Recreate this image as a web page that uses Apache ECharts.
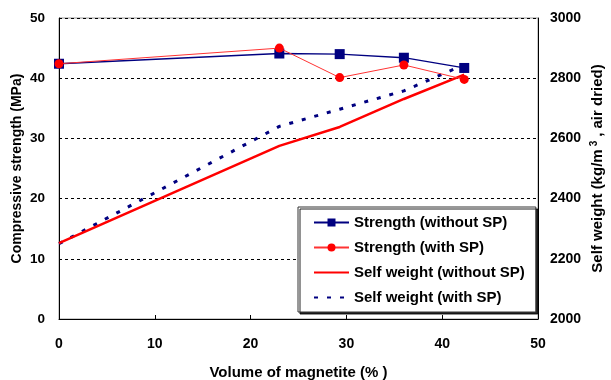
<!DOCTYPE html>
<html>
<head>
<meta charset="utf-8">
<script src="https://cdn.jsdelivr.net/npm/echarts@6/dist/echarts.min.js"></script>
<style>
html,body{margin:0;padding:0;background:#fff;}
#chart{width:611px;height:380px;}
</style>
</head>
<body>
<div id="chart"></div>
<script>
// Volume of magnetite (%)
const magnetite = [0, 23, 29.3, 36, 42.3];
// Compressive strength (MPa)
const strengthWithoutSP = [42.4, 44.1, 44.0, 43.4, 41.7];
const strengthWithSP = [42.4, 45.0, 40.1, 42.2, 39.8];
// Self weight (kg/m3, air dried)
const weightWithoutSP = [2252, 2575, 2638, 2731, 2812];
const weightWithSP = [2250, 2640, 2697, 2758, 2845];

const xTicks = {min: 0, max: 50, interval: 10};
const leftTicks = {min: 0, max: 50, interval: 10};
const rightTicks = {min: 2000, max: 3000, interval: 200};

const pairs = (xs, ys) => xs.map((x, i) => [x, ys[i]]);

const FONT = '"Liberation Sans", Arial, sans-serif';
const txt = (size) => ({color: '#000', fontWeight: 'bold', fontSize: size, fontFamily: FONT});
const hideSym = {color: 'rgba(0,0,0,0)', borderWidth: 0, opacity: 0};

const chart = echarts.init(document.getElementById('chart'), null, {renderer: 'canvas'});
chart.setOption({
  animation: false,
  backgroundColor: '#fff',
  grid: {left: 59, right: 73, top: 18, bottom: 61, outerBoundsMode: 'none', containLabel: false,
         show: true, borderColor: '#999', borderWidth: 1, backgroundColor: 'transparent'},
  legend: {
    orient: 'vertical',
    left: 298, top: 207,
    padding: [8, 11, 7, 15],
    itemGap: 10,
    itemWidth: 35,
    itemHeight: 10,
    backgroundColor: '#fff',
    borderColor: '#333',
    borderWidth: 1,
    shadowColor: 'rgba(0,0,0,0.85)',
    shadowBlur: 0,
    shadowOffsetX: 2,
    shadowOffsetY: 2,
    textStyle: txt(15),
    data: [
      {name: 'Strength (without SP)'},
      {name: 'Strength (with SP)'},
      {name: 'Self weight (without SP)', itemStyle: hideSym},
      {name: 'Self weight (with SP)', itemStyle: hideSym}
    ]
  },
  xAxis: {
    type: 'value', min: xTicks.min, max: xTicks.max, interval: xTicks.interval,
    name: 'Volume of magnetite (% )', nameLocation: 'middle', nameGap: 46,
    nameTextStyle: txt(15),
    axisLine: {show: true, lineStyle: {color: '#000', width: 1}},
    axisTick: {show: true, inside: true, length: 4, lineStyle: {color: '#000'}},
    axisLabel: Object.assign({margin: 18}, txt(14)),
    splitLine: {show: false}
  },
  yAxis: [{
    type: 'value', position: 'left', min: leftTicks.min, max: leftTicks.max, interval: leftTicks.interval,
    name: 'Compressive strength (MPa)', nameLocation: 'middle', nameGap: 35, nameRotate: 90,
    nameMoveOverlap: false,
    nameTextStyle: txt(14),
    axisLine: {show: true, lineStyle: {color: '#000', width: 1}},
    axisTick: {show: false},
    axisLabel: Object.assign({margin: 14}, txt(13.5)),
    splitLine: {show: true, lineStyle: {color: '#000', type: [3, 3], width: 1}}
  }, {
    type: 'value', position: 'right', min: rightTicks.min, max: rightTicks.max, interval: rightTicks.interval,
    name: 'Self weight (kg/m{sup|3}, air dried)', nameLocation: 'middle', nameGap: 51, nameRotate: 90,
    nameMoveOverlap: false,
    nameTextStyle: Object.assign(txt(15), {
      rich: {sup: {fontSize: 10, fontWeight: 'bold', fontFamily: FONT, color: '#000', verticalAlign: 'top', padding: [0, 4, 8, 3]}}
    }),
    axisLine: {show: true, lineStyle: {color: '#000', width: 1}},
    axisTick: {show: false},
    axisLabel: Object.assign({margin: 12, formatter: (v) => String(v)}, txt(14)),
    splitLine: {show: false}
  }],
  series: [{
    name: 'Self weight (without SP)', type: 'line', yAxisIndex: 1,
    data: pairs(magnetite, weightWithoutSP),
    symbol: 'none', showSymbol: false,
    lineStyle: {color: '#ff0000', width: 2.5},
    itemStyle: {color: '#ff0000'}, z: 3
  }, {
    name: 'Self weight (with SP)', type: 'line', yAxisIndex: 1,
    data: pairs(magnetite, weightWithSP),
    symbol: 'none', showSymbol: false,
    lineStyle: {color: '#000080', width: 3, type: [4, 9]},
    itemStyle: {color: '#000080'}, z: 2
  }, {
    name: 'Strength (without SP)', type: 'line', yAxisIndex: 0,
    data: pairs(magnetite, strengthWithoutSP),
    symbol: 'rect', symbolSize: 10,
    lineStyle: {color: '#000080', width: 1.3},
    itemStyle: {color: '#000080'}, z: 4
  }, {
    name: 'Strength (with SP)', type: 'line', yAxisIndex: 0,
    data: pairs(magnetite, strengthWithSP),
    symbol: 'circle', symbolSize: 9,
    lineStyle: {color: '#ff3333', width: 1},
    itemStyle: {color: '#ff0000'}, z: 5
  }]
});
</script>
</body>
</html>
